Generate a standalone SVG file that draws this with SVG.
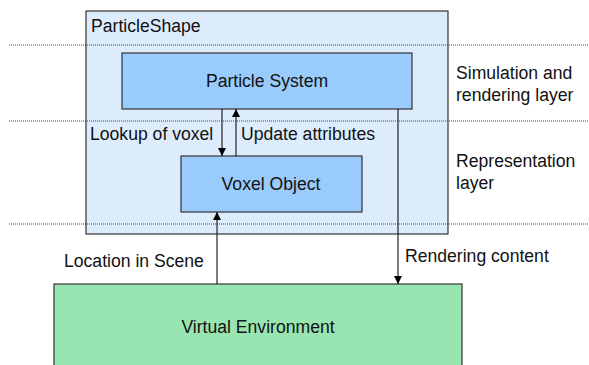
<svg xmlns="http://www.w3.org/2000/svg" width="589" height="365" viewBox="0 0 589 365">
<defs>
<style>
text{font-family:"Liberation Sans",Arial,sans-serif;font-size:17.6px;fill:#111}
.c{text-anchor:middle}
.box{stroke:#333;stroke-width:1.2}
.dot{stroke:#444;stroke-width:1;stroke-dasharray:1,1}
.conn{stroke:#222;stroke-width:1.2;fill:none}
</style>
<marker id="ah" viewBox="0 0 10 10" refX="10" refY="5" markerWidth="8" markerHeight="8" markerUnits="userSpaceOnUse" orient="auto">
<path d="M0,0 L10,5 L0,10 z" fill="#000"/>
</marker>
</defs>
<g id="particleshape">
<rect class="box" x="86" y="11" width="362" height="223" fill="#ddecfd"/>
<text x="91" y="32">ParticleShape</text>
</g>
<g id="layers">
<line class="dot" x1="9" y1="45" x2="589" y2="45"/>
<line class="dot" x1="9" y1="121" x2="589" y2="121"/>
<line class="dot" x1="9" y1="224" x2="589" y2="224"/>
<text x="456" y="79">Simulation and</text>
<text x="456" y="101">rendering layer</text>
<text x="456" y="167">Representation</text>
<text x="456" y="189">layer</text>
</g>
<g id="particle-system">
<rect class="box" x="122" y="53" width="290" height="56" fill="#99cbfd"/>
<text class="c" x="267" y="87">Particle System</text>
</g>
<g id="voxel-object">
<rect class="box" x="181" y="156" width="181" height="56" fill="#99cbfd"/>
<text class="c" x="271" y="190">Voxel Object</text>
</g>
<g id="virtual-environment">
<rect class="box" x="54" y="284" width="408" height="90" fill="#99e5b2"/>
<text class="c" x="258" y="333">Virtual Environment</text>
</g>
<g id="connectors">
<line class="conn" x1="222" y1="109" x2="222" y2="156" marker-end="url(#ah)"/>
<line class="conn" x1="236" y1="156" x2="236" y2="109" marker-end="url(#ah)"/>
<line class="conn" x1="217" y1="284" x2="217" y2="212" marker-end="url(#ah)"/>
<line class="conn" x1="398" y1="109" x2="398" y2="284" marker-end="url(#ah)"/>
<text x="90" y="140">Lookup of voxel</text>
<text x="241" y="140">Update attributes</text>
<text x="64" y="267">Location in Scene</text>
<text x="405" y="262">Rendering content</text>
</g>
</svg>
